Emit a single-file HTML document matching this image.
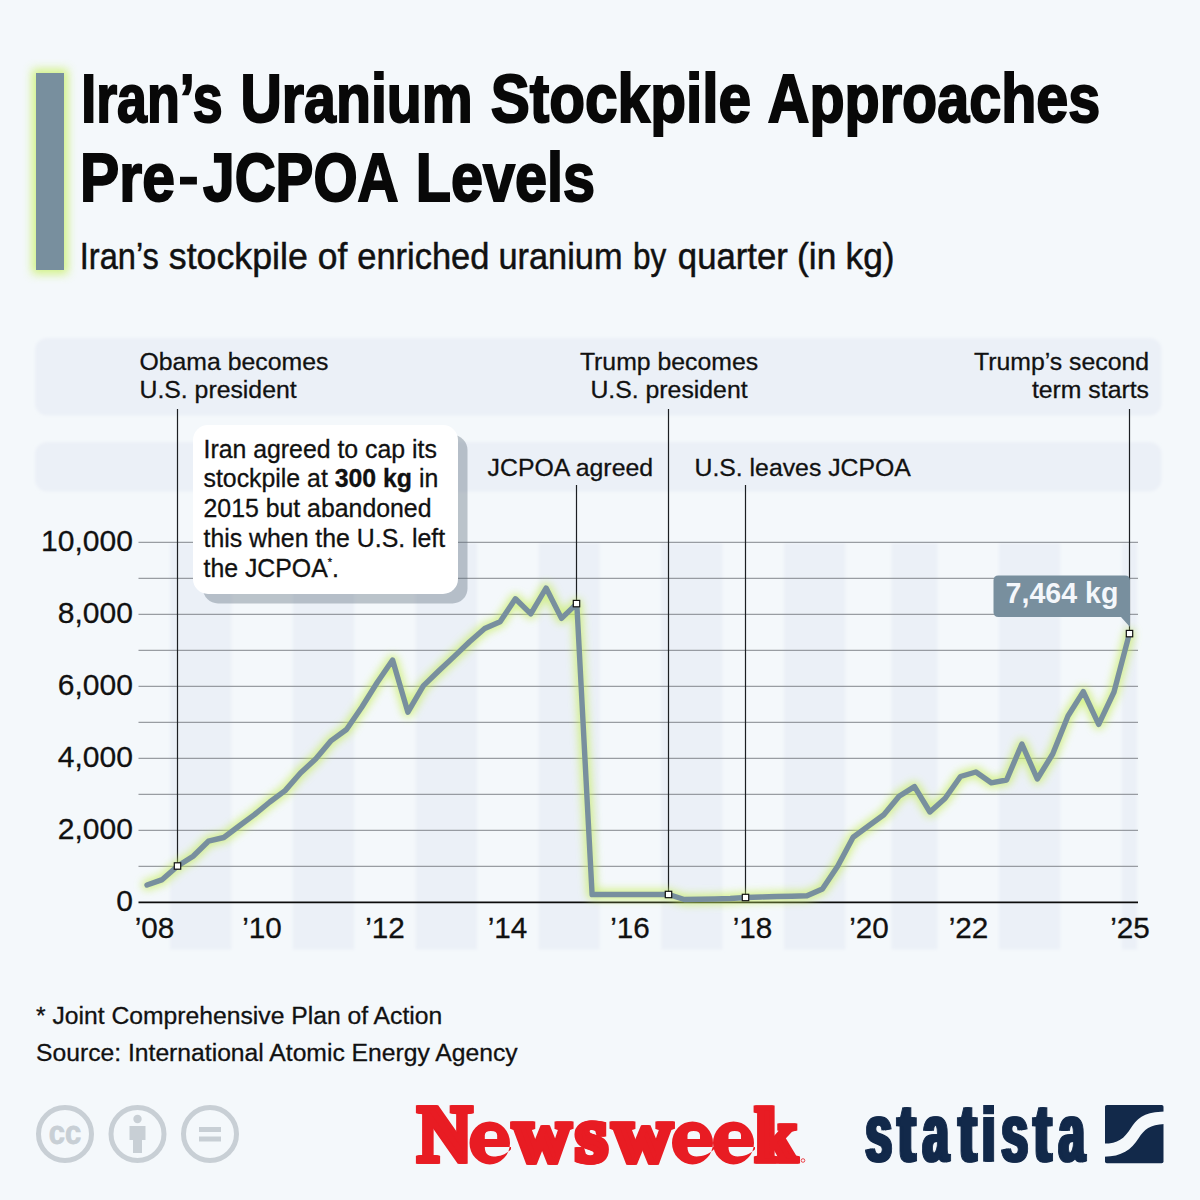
<!DOCTYPE html>
<html><head><meta charset="utf-8"><title>Iran's Uranium Stockpile</title>
<style>
html,body{margin:0;padding:0;background:#f4f8fb;}
body{width:1200px;height:1200px;overflow:hidden;font-family:"Liberation Sans",sans-serif;}
svg{display:block;font-family:"Liberation Sans",sans-serif;}
text{fill:#111;stroke:#111;stroke-width:0.3px;} .ttl text{fill:#080808;}
</style></head><body>
<svg width="1200" height="1200" viewBox="0 0 1200 1200">
<defs>
<filter id="glow" x="-5%" y="-10%" width="110%" height="120%"><feGaussianBlur stdDeviation="4"/></filter>
<filter id="barglow" x="-100%" y="-20%" width="300%" height="140%"><feGaussianBlur stdDeviation="5"/></filter>
<filter id="soft" x="-5%" y="-5%" width="110%" height="110%"><feGaussianBlur stdDeviation="1.8"/></filter>
<filter id="soft2" x="-5%" y="-20%" width="110%" height="140%"><feGaussianBlur stdDeviation="1.6"/></filter>
</defs>
<rect width="1200" height="1200" fill="#f4f8fb"/>

<!-- title bar -->
<rect x="32" y="69" width="36" height="205" fill="#c9f068" filter="url(#barglow)" opacity="0.8"/>
<rect x="36" y="73" width="28" height="197" fill="#788f9e"/>

<!-- title -->
<text transform="translate(81.23 122.1) scale(0.7908 1)" style="font-family:'Liberation Sans',sans-serif;font-weight:700;font-size:68.0px;stroke-width:2.0px;fill:#080808;stroke:#080808;">Iran’s </text><text transform="translate(240.47 122.1) scale(0.8419 1)" style="font-family:'Liberation Sans',sans-serif;font-weight:700;font-size:68.0px;stroke-width:2.0px;fill:#080808;stroke:#080808;">Uranium </text><text transform="translate(490.64 122.1) scale(0.8617 1)" style="font-family:'Liberation Sans',sans-serif;font-weight:700;font-size:68.0px;stroke-width:2.0px;fill:#080808;stroke:#080808;">Stockpile </text><text transform="translate(767.87 122.1) scale(0.8460 1)" style="font-family:'Liberation Sans',sans-serif;font-weight:700;font-size:68.0px;stroke-width:2.0px;fill:#080808;stroke:#080808;">Approaches </text><text transform="translate(80.07 201.1) scale(0.8644 1)" style="font-family:'Liberation Sans',sans-serif;font-weight:700;font-size:68.0px;stroke-width:2.0px;fill:#080808;stroke:#080808;">Pre </text><rect x="180" y="176.8" width="16.9" height="7.7" fill="#080808"/><text transform="translate(203.10 201.1) scale(0.8341 1)" style="font-family:'Liberation Sans',sans-serif;font-weight:700;font-size:68.0px;stroke-width:2.0px;fill:#080808;stroke:#080808;">JCPOA </text><text transform="translate(415.79 201.1) scale(0.8468 1)" style="font-family:'Liberation Sans',sans-serif;font-weight:700;font-size:68.0px;stroke-width:2.0px;fill:#080808;stroke:#080808;">Levels </text><text transform="translate(79.75 268.5) scale(0.8807 1)" style="font-family:'Liberation Sans',sans-serif;font-weight:400;font-size:37px;stroke-width:0.5px;fill:#111;stroke:#111;">Iran’s </text><text transform="translate(168.75 268.5) scale(0.9666 1)" style="font-family:'Liberation Sans',sans-serif;font-weight:400;font-size:37px;stroke-width:0.5px;fill:#111;stroke:#111;">stockpile </text><text transform="translate(317.70 268.5) scale(0.9567 1)" style="font-family:'Liberation Sans',sans-serif;font-weight:400;font-size:37px;stroke-width:0.5px;fill:#111;stroke:#111;">of </text><text transform="translate(357.22 268.5) scale(0.9322 1)" style="font-family:'Liberation Sans',sans-serif;font-weight:400;font-size:37px;stroke-width:0.5px;fill:#111;stroke:#111;">enriched </text><text transform="translate(498.43 268.5) scale(0.9283 1)" style="font-family:'Liberation Sans',sans-serif;font-weight:400;font-size:37px;stroke-width:0.5px;fill:#111;stroke:#111;">uranium </text><text transform="translate(632.99 268.5) scale(0.8512 1)" style="font-family:'Liberation Sans',sans-serif;font-weight:400;font-size:37px;stroke-width:0.5px;fill:#111;stroke:#111;">by </text><text transform="translate(677.83 268.5) scale(0.9384 1)" style="font-family:'Liberation Sans',sans-serif;font-weight:400;font-size:37px;stroke-width:0.5px;fill:#111;stroke:#111;">quarter </text><text transform="translate(797.09 268.5) scale(0.9546 1)" style="font-family:'Liberation Sans',sans-serif;font-weight:400;font-size:37px;stroke-width:0.5px;fill:#111;stroke:#111;">(in </text><text transform="translate(845.55 268.5) scale(0.9549 1)" style="font-family:'Liberation Sans',sans-serif;font-weight:400;font-size:37px;stroke-width:0.5px;fill:#111;stroke:#111;">kg) </text>

<!-- bands -->
<g fill="#ebf0f7" filter="url(#soft2)">
<rect x="35" y="338" width="1126.5" height="77.5" rx="12"/>
<rect x="35" y="442" width="1126.5" height="49.5" rx="12"/>
</g>

<!-- stripes -->
<g fill="#ebf0f7" filter="url(#soft)"><rect x="170.0" y="543" width="61.4" height="406.5"/><rect x="292.8" y="543" width="61.4" height="406.5"/><rect x="415.6" y="543" width="61.4" height="406.5"/><rect x="538.4" y="543" width="61.4" height="406.5"/><rect x="661.2" y="543" width="61.4" height="406.5"/><rect x="784.0" y="543" width="61.4" height="406.5"/><rect x="891.5" y="543" width="46.0" height="406.5"/><rect x="998.9" y="543" width="61.4" height="406.5"/><rect x="1121.7" y="543" width="15.3" height="406.5"/></g>

<!-- grid -->
<g stroke="#82868c" stroke-width="1"><line x1="138.5" x2="1138" y1="866.30" y2="866.30"/><line x1="138.5" x2="1138" y1="830.30" y2="830.30"/><line x1="138.5" x2="1138" y1="794.30" y2="794.30"/><line x1="138.5" x2="1138" y1="758.30" y2="758.30"/><line x1="138.5" x2="1138" y1="722.30" y2="722.30"/><line x1="138.5" x2="1138" y1="686.30" y2="686.30"/><line x1="138.5" x2="1138" y1="650.30" y2="650.30"/><line x1="138.5" x2="1138" y1="614.30" y2="614.30"/><line x1="138.5" x2="1138" y1="578.30" y2="578.30"/><line x1="138.5" x2="1138" y1="542.30" y2="542.30"/></g>
<line x1="138.5" x2="1138" y1="902.4" y2="902.4" stroke="#0c0c0c" stroke-width="1.6"/>

<!-- axis labels -->
<g font-size="30.05px"><text x="132.9" y="910.9" text-anchor="end">0</text><text x="132.9" y="838.9" text-anchor="end">2,000</text><text x="132.9" y="766.9" text-anchor="end">4,000</text><text x="132.9" y="694.9" text-anchor="end">6,000</text><text x="132.9" y="622.9" text-anchor="end">8,000</text><text x="132.9" y="550.9" text-anchor="end">10,000</text><text x="154.5" y="937.8" text-anchor="middle" font-size="29.7px">’08</text><text x="262" y="937.8" text-anchor="middle" font-size="29.7px">’10</text><text x="385" y="937.8" text-anchor="middle" font-size="29.7px">’12</text><text x="507.5" y="937.8" text-anchor="middle" font-size="29.7px">’14</text><text x="630" y="937.8" text-anchor="middle" font-size="29.7px">’16</text><text x="752.5" y="937.8" text-anchor="middle" font-size="29.7px">’18</text><text x="869" y="937.8" text-anchor="middle" font-size="29.7px">’20</text><text x="968.5" y="937.8" text-anchor="middle" font-size="29.7px">’22</text><text x="1130" y="937.8" text-anchor="middle" font-size="29.7px">’25</text></g>

<!-- annotation lines -->
<g stroke="#1c1f23" stroke-width="1.2"><line x1="177.5" x2="177.5" y1="409" y2="866.0"/><line x1="576.5" x2="576.5" y1="485" y2="603.6"/><line x1="668.5" x2="668.5" y1="409" y2="894.5"/><line x1="745.5" x2="745.5" y1="485" y2="897.5"/><line x1="1129.5" x2="1129.5" y1="409" y2="633.6"/></g>

<!-- callout box -->
<rect x="203" y="435" width="264.5" height="168.5" rx="15" fill="rgb(96,110,125)" fill-opacity="0.39"/>
<rect x="193" y="425" width="265" height="169" rx="15" fill="#ffffff"/>
<g font-size="24.85px">
<text x="203.5" y="457.5">Iran agreed to cap its</text>
<text x="203.5" y="487.3">stockpile at <tspan font-weight="700">300 kg</tspan> in</text>
<text x="203.5" y="517.1">2015 but abandoned</text>
<text x="203.5" y="546.9">this when the U.S. left</text>
<text x="203.5" y="576.7">the JCPOA<tspan font-size="11px" dy="-11">*</tspan><tspan dy="11">.</tspan></text>
</g>

<!-- data line -->
<path d="M147.0 885.0 L162.3 879.6 L177.7 866.0 L193.1 856.2 L208.4 841.2 L223.8 837.5 L239.1 826.0 L254.4 814.6 L269.8 802.0 L285.1 790.6 L300.5 773.0 L315.9 758.8 L331.2 740.6 L346.5 729.5 L361.9 707.0 L377.2 682.5 L392.6 660.0 L407.9 712.2 L423.3 685.9 L438.6 671.0 L454.0 656.6 L469.3 642.0 L484.7 628.5 L500.1 621.8 L515.4 598.8 L530.8 613.9 L546.1 588.0 L561.5 618.4 L576.8 603.6 L592.1 894.5 L607.5 894.5 L622.8 894.5 L638.2 894.5 L653.5 894.5 L668.9 894.5 L684.2 899.5 L699.6 899.3 L714.9 899.0 L730.3 898.5 L745.6 897.5 L761.0 897.0 L776.4 896.5 L791.7 896.2 L807.0 895.8 L822.4 889.0 L837.8 866.0 L853.1 837.2 L868.4 826.0 L883.8 814.8 L899.1 796.3 L914.5 786.6 L929.9 812.0 L945.2 798.3 L960.5 776.5 L975.9 772.0 L991.2 782.8 L1006.6 780.0 L1021.9 744.0 L1037.3 779.0 L1052.7 754.0 L1068.0 716.0 L1083.3 691.6 L1098.7 724.4 L1114.0 692.0 L1129.4 633.6" fill="none" stroke="#c7ee5c" stroke-width="10" stroke-linejoin="round" stroke-linecap="round" filter="url(#glow)" opacity="0.74"/>
<path d="M147.0 885.0 L162.3 879.6 L177.7 866.0 L193.1 856.2 L208.4 841.2 L223.8 837.5 L239.1 826.0 L254.4 814.6 L269.8 802.0 L285.1 790.6 L300.5 773.0 L315.9 758.8 L331.2 740.6 L346.5 729.5 L361.9 707.0 L377.2 682.5 L392.6 660.0 L407.9 712.2 L423.3 685.9 L438.6 671.0 L454.0 656.6 L469.3 642.0 L484.7 628.5 L500.1 621.8 L515.4 598.8 L530.8 613.9 L546.1 588.0 L561.5 618.4 L576.8 603.6 L592.1 894.5 L607.5 894.5 L622.8 894.5 L638.2 894.5 L653.5 894.5 L668.9 894.5 L684.2 899.5 L699.6 899.3 L714.9 899.0 L730.3 898.5 L745.6 897.5 L761.0 897.0 L776.4 896.5 L791.7 896.2 L807.0 895.8 L822.4 889.0 L837.8 866.0 L853.1 837.2 L868.4 826.0 L883.8 814.8 L899.1 796.3 L914.5 786.6 L929.9 812.0 L945.2 798.3 L960.5 776.5 L975.9 772.0 L991.2 782.8 L1006.6 780.0 L1021.9 744.0 L1037.3 779.0 L1052.7 754.0 L1068.0 716.0 L1083.3 691.6 L1098.7 724.4 L1114.0 692.0 L1129.4 633.6" fill="none" stroke="#788f9e" stroke-width="5.4" stroke-linejoin="round" stroke-linecap="round"/>

<!-- value label -->
<path d="M998.5 575.5 H1125 Q1130 575.5 1130 580.5 V627 L1121 617 H998.5 Q993.5 617 993.5 612 V580.5 Q993.5 575.5 998.5 575.5Z" fill="#788f9e"/>
<text x="1062" y="602.7" font-size="28.6px" font-weight="700" text-anchor="middle" style="fill:#f4f7fb;stroke:none">7,464 kg</text>

<rect x="174.3" y="862.8" width="6.4" height="6.4" fill="#fff" stroke="#111" stroke-width="1.2"/><rect x="573.3" y="600.4" width="6.4" height="6.4" fill="#fff" stroke="#111" stroke-width="1.2"/><rect x="665.3" y="891.3" width="6.4" height="6.4" fill="#fff" stroke="#111" stroke-width="1.2"/><rect x="742.3" y="894.3" width="6.4" height="6.4" fill="#fff" stroke="#111" stroke-width="1.2"/><rect x="1126.3" y="630.4" width="6.4" height="6.4" fill="#fff" stroke="#111" stroke-width="1.2"/>

<!-- annotation labels -->
<g font-size="24.8px">
<text x="139.5" y="369.5">Obama becomes</text>
<text x="139.5" y="397.5">U.S. president</text>
<text x="669" y="369.5" text-anchor="middle">Trump becomes</text>
<text x="669" y="397.5" text-anchor="middle">U.S. president</text>
<text x="1149" y="369.5" text-anchor="end">Trump’s second</text>
<text x="1149" y="397.5" text-anchor="end">term starts</text>
<text x="653" y="475.5" text-anchor="end">JCPOA agreed</text>
<text x="694.5" y="475.5">U.S. leaves JCPOA</text>
</g>

<!-- footer -->
<g font-size="24.7px">
<text x="36" y="1024">* Joint Comprehensive Plan of Action</text>
<text x="36" y="1061">Source: International Atomic Energy Agency</text>
</g>

<!-- cc icons -->
<g fill="none" stroke="#c8cfd5" stroke-width="5">
<circle cx="65" cy="1134" r="26.5"/>
<circle cx="137.5" cy="1134" r="26.5"/>
<circle cx="210" cy="1134" r="26.5"/>
</g>
<g fill="#c8cfd5">
<text x="65" y="1143.5" font-size="33px" font-weight="700" text-anchor="middle" style="fill:#c8cfd5;stroke:#c8cfd5;stroke-width:0.8px" textLength="32.5" lengthAdjust="spacingAndGlyphs">cc</text>
<circle cx="137.5" cy="1119" r="4.2"/>
<path d="M129.5 1126 h16 v14 h-3.5 v13 h-9 v-13 h-3.5z"/>
<rect x="199" y="1127" width="22" height="5"/>
<rect x="199" y="1136.5" width="22" height="5"/>
</g>

<!-- Newsweek -->
<text transform="translate(417.11 1161.3) scale(0.9291 1)" style="font-family:'Liberation Serif',serif;font-weight:700;font-size:79.5px;stroke-width:5.4px;fill:#e81c23;stroke:#e81c23;stroke-linejoin:miter;">N</text><text transform="translate(418.11 1161.3) scale(0.9291 1)" style="font-family:'Liberation Serif',serif;font-weight:700;font-size:79.5px;stroke-width:5.4px;fill:#e81c23;stroke:#e81c23;stroke-linejoin:miter;">N</text><text transform="translate(419.11 1161.3) scale(0.9291 1)" style="font-family:'Liberation Serif',serif;font-weight:700;font-size:79.5px;stroke-width:5.4px;fill:#e81c23;stroke:#e81c23;stroke-linejoin:miter;">N</text><path transform="translate(469.5 1121.4) scale(0.9878 1)" d="M20.5 0 A20.5 21.5 0 1 0 20.5 43 A20.5 21.5 0 1 0 20.5 0 Z M15.5 17.5 V13.8 Q15.5 9.5 21.75 9.5 Q28 9.5 28 13.8 V17.5 Z M15.5 25.5 H42 V27.8 C37 33 31 35 24.5 35 C18.5 35 15.5 31.5 15.5 25.5 Z" fill="#e81c23" fill-rule="evenodd"/><text transform="translate(512.42 1161.3) scale(0.9895 1)" style="font-family:'Liberation Serif',serif;font-weight:700;font-size:79.5px;stroke-width:5.4px;fill:#e81c23;stroke:#e81c23;stroke-linejoin:miter;">w</text><text transform="translate(513.42 1161.3) scale(0.9895 1)" style="font-family:'Liberation Serif',serif;font-weight:700;font-size:79.5px;stroke-width:5.4px;fill:#e81c23;stroke:#e81c23;stroke-linejoin:miter;">w</text><text transform="translate(514.42 1161.3) scale(0.9895 1)" style="font-family:'Liberation Serif',serif;font-weight:700;font-size:79.5px;stroke-width:5.4px;fill:#e81c23;stroke:#e81c23;stroke-linejoin:miter;">w</text><text transform="translate(574.83 1161.3) scale(1.0148 1)" style="font-family:'Liberation Serif',serif;font-weight:700;font-size:79.5px;stroke-width:5.4px;fill:#e81c23;stroke:#e81c23;stroke-linejoin:miter;">s</text><text transform="translate(575.83 1161.3) scale(1.0148 1)" style="font-family:'Liberation Serif',serif;font-weight:700;font-size:79.5px;stroke-width:5.4px;fill:#e81c23;stroke:#e81c23;stroke-linejoin:miter;">s</text><text transform="translate(576.83 1161.3) scale(1.0148 1)" style="font-family:'Liberation Serif',serif;font-weight:700;font-size:79.5px;stroke-width:5.4px;fill:#e81c23;stroke:#e81c23;stroke-linejoin:miter;">s</text><text transform="translate(612.00 1161.3) scale(1.0217 1)" style="font-family:'Liberation Serif',serif;font-weight:700;font-size:79.5px;stroke-width:5.4px;fill:#e81c23;stroke:#e81c23;stroke-linejoin:miter;">w</text><text transform="translate(613.00 1161.3) scale(1.0217 1)" style="font-family:'Liberation Serif',serif;font-weight:700;font-size:79.5px;stroke-width:5.4px;fill:#e81c23;stroke:#e81c23;stroke-linejoin:miter;">w</text><text transform="translate(614.00 1161.3) scale(1.0217 1)" style="font-family:'Liberation Serif',serif;font-weight:700;font-size:79.5px;stroke-width:5.4px;fill:#e81c23;stroke:#e81c23;stroke-linejoin:miter;">w</text><path transform="translate(672 1121.4) scale(1.0000 1)" d="M20.5 0 A20.5 21.5 0 1 0 20.5 43 A20.5 21.5 0 1 0 20.5 0 Z M15.5 17.5 V13.8 Q15.5 9.5 21.75 9.5 Q28 9.5 28 13.8 V17.5 Z M15.5 25.5 H42 V27.8 C37 33 31 35 24.5 35 C18.5 35 15.5 31.5 15.5 25.5 Z" fill="#e81c23" fill-rule="evenodd"/><path transform="translate(713 1121.4) scale(1.0000 1)" d="M20.5 0 A20.5 21.5 0 1 0 20.5 43 A20.5 21.5 0 1 0 20.5 0 Z M15.5 17.5 V13.8 Q15.5 9.5 21.75 9.5 Q28 9.5 28 13.8 V17.5 Z M15.5 25.5 H42 V27.8 C37 33 31 35 24.5 35 C18.5 35 15.5 31.5 15.5 25.5 Z" fill="#e81c23" fill-rule="evenodd"/><text transform="translate(754.16 1161.3) scale(0.9363 0.945)" style="font-family:'Liberation Serif',serif;font-weight:700;font-size:79.5px;stroke-width:5.4px;fill:#e81c23;stroke:#e81c23;stroke-linejoin:miter;">k</text><text transform="translate(755.16 1161.3) scale(0.9363 0.945)" style="font-family:'Liberation Serif',serif;font-weight:700;font-size:79.5px;stroke-width:5.4px;fill:#e81c23;stroke:#e81c23;stroke-linejoin:miter;">k</text><text transform="translate(756.16 1161.3) scale(0.9363 0.945)" style="font-family:'Liberation Serif',serif;font-weight:700;font-size:79.5px;stroke-width:5.4px;fill:#e81c23;stroke:#e81c23;stroke-linejoin:miter;">k</text><circle cx="803" cy="1160.5" r="1.8" fill="none" stroke="#e81c23" stroke-width="0.8"/>
<!-- statista -->
<text transform="translate(863.74 1161.3) scale(0.5806 1)" style="font-family:'Liberation Sans',sans-serif;font-weight:700;font-size:81.8px;stroke-width:1.4px;fill:#12294a;stroke:#12294a;">s</text><text transform="translate(865.44 1161.3) scale(0.5806 1)" style="font-family:'Liberation Sans',sans-serif;font-weight:700;font-size:81.8px;stroke-width:1.4px;fill:#12294a;stroke:#12294a;">s</text><text transform="translate(867.14 1161.3) scale(0.5806 1)" style="font-family:'Liberation Sans',sans-serif;font-weight:700;font-size:81.8px;stroke-width:1.4px;fill:#12294a;stroke:#12294a;">s</text><text transform="translate(895.80 1161.3) scale(0.6604 1)" style="font-family:'Liberation Sans',sans-serif;font-weight:700;font-size:81.8px;stroke-width:1.4px;fill:#12294a;stroke:#12294a;">t</text><text transform="translate(897.50 1161.3) scale(0.6604 1)" style="font-family:'Liberation Sans',sans-serif;font-weight:700;font-size:81.8px;stroke-width:1.4px;fill:#12294a;stroke:#12294a;">t</text><text transform="translate(899.20 1161.3) scale(0.6604 1)" style="font-family:'Liberation Sans',sans-serif;font-weight:700;font-size:81.8px;stroke-width:1.4px;fill:#12294a;stroke:#12294a;">t</text><text transform="translate(921.05 1161.3) scale(0.5686 1)" style="font-family:'Liberation Sans',sans-serif;font-weight:700;font-size:81.8px;stroke-width:1.4px;fill:#12294a;stroke:#12294a;">a</text><text transform="translate(922.75 1161.3) scale(0.5686 1)" style="font-family:'Liberation Sans',sans-serif;font-weight:700;font-size:81.8px;stroke-width:1.4px;fill:#12294a;stroke:#12294a;">a</text><text transform="translate(924.45 1161.3) scale(0.5686 1)" style="font-family:'Liberation Sans',sans-serif;font-weight:700;font-size:81.8px;stroke-width:1.4px;fill:#12294a;stroke:#12294a;">a</text><text transform="translate(956.80 1161.3) scale(0.6604 1)" style="font-family:'Liberation Sans',sans-serif;font-weight:700;font-size:81.8px;stroke-width:1.4px;fill:#12294a;stroke:#12294a;">t</text><text transform="translate(958.50 1161.3) scale(0.6604 1)" style="font-family:'Liberation Sans',sans-serif;font-weight:700;font-size:81.8px;stroke-width:1.4px;fill:#12294a;stroke:#12294a;">t</text><text transform="translate(960.20 1161.3) scale(0.6604 1)" style="font-family:'Liberation Sans',sans-serif;font-weight:700;font-size:81.8px;stroke-width:1.4px;fill:#12294a;stroke:#12294a;">t</text><text transform="translate(980.25 1161.3) scale(0.5850 1)" style="font-family:'Liberation Sans',sans-serif;font-weight:700;font-size:81.8px;stroke-width:1.4px;fill:#12294a;stroke:#12294a;">ı</text><text transform="translate(981.95 1161.3) scale(0.5850 1)" style="font-family:'Liberation Sans',sans-serif;font-weight:700;font-size:81.8px;stroke-width:1.4px;fill:#12294a;stroke:#12294a;">ı</text><text transform="translate(983.65 1161.3) scale(0.5850 1)" style="font-family:'Liberation Sans',sans-serif;font-weight:700;font-size:81.8px;stroke-width:1.4px;fill:#12294a;stroke:#12294a;">ı</text><text transform="translate(999.74 1161.3) scale(0.5806 1)" style="font-family:'Liberation Sans',sans-serif;font-weight:700;font-size:81.8px;stroke-width:1.4px;fill:#12294a;stroke:#12294a;">s</text><text transform="translate(1001.44 1161.3) scale(0.5806 1)" style="font-family:'Liberation Sans',sans-serif;font-weight:700;font-size:81.8px;stroke-width:1.4px;fill:#12294a;stroke:#12294a;">s</text><text transform="translate(1003.14 1161.3) scale(0.5806 1)" style="font-family:'Liberation Sans',sans-serif;font-weight:700;font-size:81.8px;stroke-width:1.4px;fill:#12294a;stroke:#12294a;">s</text><text transform="translate(1031.80 1161.3) scale(0.6604 1)" style="font-family:'Liberation Sans',sans-serif;font-weight:700;font-size:81.8px;stroke-width:1.4px;fill:#12294a;stroke:#12294a;">t</text><text transform="translate(1033.50 1161.3) scale(0.6604 1)" style="font-family:'Liberation Sans',sans-serif;font-weight:700;font-size:81.8px;stroke-width:1.4px;fill:#12294a;stroke:#12294a;">t</text><text transform="translate(1035.20 1161.3) scale(0.6604 1)" style="font-family:'Liberation Sans',sans-serif;font-weight:700;font-size:81.8px;stroke-width:1.4px;fill:#12294a;stroke:#12294a;">t</text><text transform="translate(1057.05 1161.3) scale(0.5686 1)" style="font-family:'Liberation Sans',sans-serif;font-weight:700;font-size:81.8px;stroke-width:1.4px;fill:#12294a;stroke:#12294a;">a</text><text transform="translate(1058.75 1161.3) scale(0.5686 1)" style="font-family:'Liberation Sans',sans-serif;font-weight:700;font-size:81.8px;stroke-width:1.4px;fill:#12294a;stroke:#12294a;">a</text><text transform="translate(1060.45 1161.3) scale(0.5686 1)" style="font-family:'Liberation Sans',sans-serif;font-weight:700;font-size:81.8px;stroke-width:1.4px;fill:#12294a;stroke:#12294a;">a</text><rect x="983.2" y="1105" width="10.8" height="9.2" fill="#12294a"/>
<g>
<rect x="1105" y="1105" width="58.5" height="58.2" rx="1.8" fill="#12294a"/>
<path d="M1104 1143.6 C1118 1143.6 1124 1139 1131.25 1127.5 C1138 1117 1146 1111.8 1164.5 1111.4 L1164.5 1124.1 C1150 1124.5 1144 1130 1138.75 1138 C1131 1150 1122 1156.5 1104 1156.75 Z" fill="#f4f8fb"/>
</g>
</svg>
</body></html>
